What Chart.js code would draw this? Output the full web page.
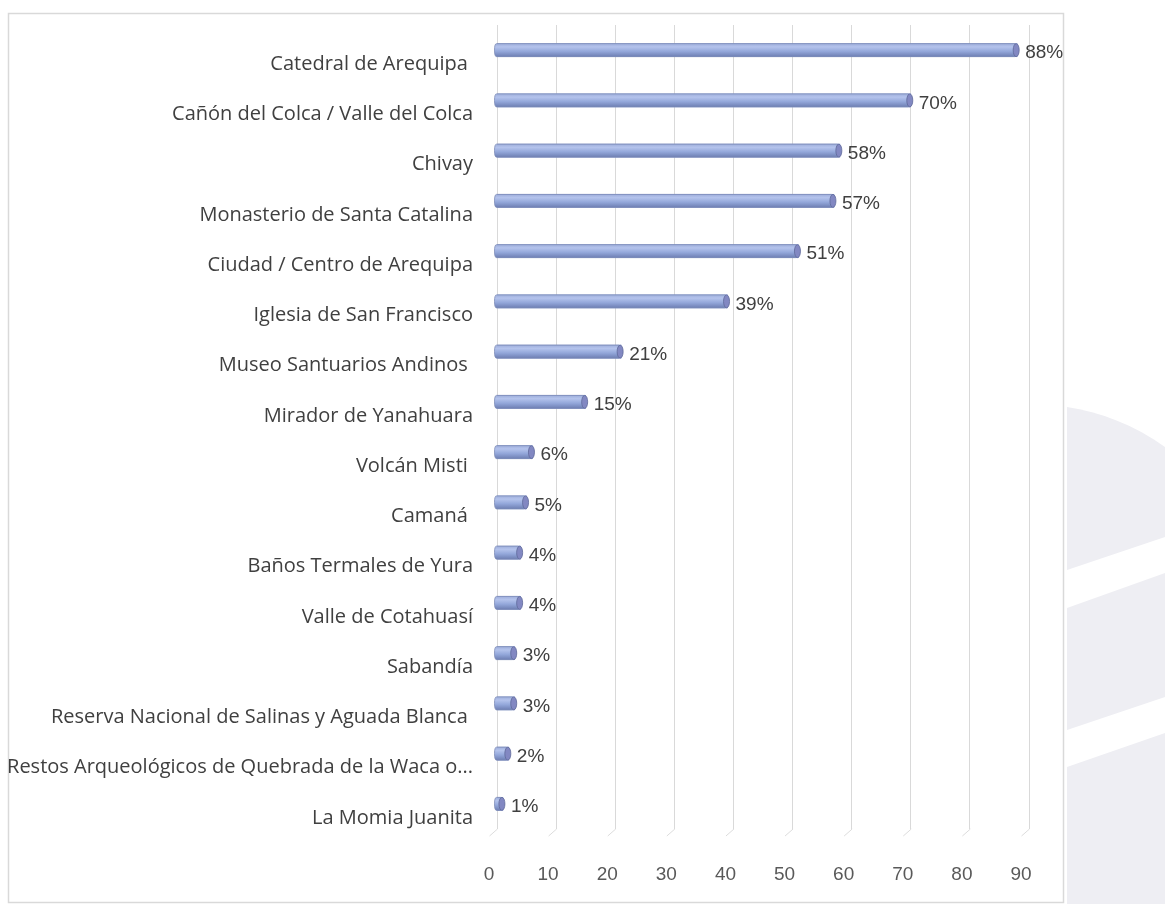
<!DOCTYPE html>
<html lang="es">

<head>
    <meta charset="UTF-8">
    <title>Lugares visitados en Arequipa</title>
    <script src="https://cdn.jsdelivr.net/npm/chart.js"></script>
    <style>
        body { margin: 0; background: #fff; }
        #wrap { width: 1165px; height: 904px; position: relative; }
    </style>
</head>

<body>
    <div id="wrap">
        <canvas id="barChart"></canvas>
    </div>
    <script>
        // places and share of visitors (%)
        const places = [
            'Catedral de Arequipa ',
            'Cañón del Colca / Valle del Colca',
            'Chivay',
            'Monasterio de Santa Catalina',
            'Ciudad / Centro de Arequipa',
            'Iglesia de San Francisco',
            'Museo Santuarios Andinos ',
            'Mirador de Yanahuara',
            'Volcán Misti ',
            'Camaná ',
            'Baños Termales de Yura',
            'Valle de Cotahuasí',
            'Sabandía',
            'Reserva Nacional de Salinas y Aguada Blanca ',
            'Restos Arqueológicos de Quebrada de la Waca o...',
            'La Momia Juanita'
        ];
        const shares = [88, 70, 58, 57, 51, 39, 21, 15, 6, 5, 4, 4, 3, 3, 2, 1];
        const axisMin = 0;
        const axisMax = 90;
        const axisStep = 10;

        // page frame + grey watermark on the right
        const framePlugin = {
            id: 'frame',
            beforeDraw(chart) {
                const c = chart.ctx;
                c.save();
                c.fillStyle = '#eeeef3';
                c.beginPath();
                c.moveTo(1067, 407);
                c.bezierCurveTo(1100, 412, 1135, 425, 1165, 447);
                c.lineTo(1165, 904);
                c.lineTo(1067, 904);
                c.closePath();
                c.fill();
                c.fillStyle = '#ffffff';
                c.beginPath();
                c.moveTo(1067, 570); c.lineTo(1165, 537); c.lineTo(1165, 573); c.lineTo(1067, 608);
                c.closePath();
                c.fill();
                c.beginPath();
                c.moveTo(1067, 730); c.lineTo(1165, 697); c.lineTo(1165, 733); c.lineTo(1067, 767);
                c.closePath();
                c.fill();
                c.strokeStyle = '#d9d9d9';
                c.lineWidth = 1.5;
                c.strokeRect(8.5, 13.5, 1055, 889);
                c.restore();
            },
            afterDraw(chart) {
                // little floor hooks under each grid line
                const c = chart.ctx;
                const xs = chart.scales.x;
                const b = chart.chartArea.bottom;
                c.save();
                c.strokeStyle = '#dcdcdc';
                c.lineWidth = 1;
                xs.ticks.forEach((t, i) => {
                    const x = xs.getPixelForTick(i) + 0.5;
                    c.beginPath();
                    c.moveTo(x, b);
                    c.lineTo(x - 8, b + 7);
                    c.stroke();
                });
                c.restore();
            }
        };

        // cylinder shading and value labels on the bars
        const barLook = {
            id: 'barLook',
            afterDatasetsDraw(chart) {
                const c = chart.ctx;
                const meta = chart.getDatasetMeta(0);
                c.save();
                meta.data.forEach((bar, i) => {
                    const h = bar.height;
                    const top = bar.y - h / 2;
                    const x0 = bar.base - 3;
                    const x1 = bar.x;
                    const g = c.createLinearGradient(0, top, 0, top + h);
                    g.addColorStop(0, '#9eaedb');
                    g.addColorStop(0.25, '#b4c3ec');
                    g.addColorStop(0.6, '#93a7da');
                    g.addColorStop(1, '#6e7fb3');
                    c.fillStyle = g;
                    c.strokeStyle = '#7c8bb8';
                    c.lineWidth = 0.8;
                    c.beginPath();
                    c.moveTo(x0 + 2, top);
                    c.lineTo(x1 - 2, top);
                    c.lineTo(x1 - 2, top + h);
                    c.lineTo(x0 + 2, top + h);
                    c.quadraticCurveTo(x0, top + h, x0, top + h / 2);
                    c.quadraticCurveTo(x0, top, x0 + 2, top);
                    c.fill();
                    c.stroke();
                    // end cap
                    c.fillStyle = '#8288c2';
                    c.strokeStyle = '#5e6899';
                    c.beginPath();
                    c.ellipse(x1 - 1, bar.y, 3, h / 2, 0, 0, Math.PI * 2);
                    c.fill();
                    c.stroke();
                    // value label
                    c.fillStyle = '#404040';
                    c.font = '19px "Liberation Sans Narrow", "Liberation Sans", sans-serif';
                    c.textAlign = 'left';
                    c.textBaseline = 'middle';
                    c.fillText(shares[i] + '%', x1 + 8, bar.y + 3);
                });
                c.restore();
            }
        };

        const ctx = document.getElementById('barChart').getContext('2d');
        new Chart(ctx, {
            type: 'bar',
            data: {
                labels: places,
                datasets: [{
                    data: shares,
                    backgroundColor: '#8fa2d6',
                    borderWidth: 0,
                    barThickness: 13
                }]
            },
            options: {
                indexAxis: 'y',
                responsive: true,
                maintainAspectRatio: false,
                animation: false,
                layout: { padding: { top: 25, right: 136, bottom: 15, left: 0 } },
                plugins: {
                    legend: { display: false },
                    tooltip: { enabled: false }
                },
                scales: {
                    x: {
                        min: axisMin,
                        max: axisMax,
                        ticks: {
                            stepSize: axisStep,
                            padding: 34,
                            labelOffset: -8,
                            color: '#595959',
                            font: { family: '"Liberation Sans Narrow", "Liberation Sans", sans-serif', size: 19 }
                        },
                        grid: { color: '#d9d9d9', drawTicks: false },
                        border: { display: false },
                        afterFit(scale) { scale.height = 60; }
                    },
                    y: {
                        ticks: {
                            padding: 24,
                            labelOffset: 14,
                            color: '#404040',
                            autoSkip: false,
                            font: { family: '"Open Sans", sans-serif', size: 20 }
                        },
                        grid: { display: false, drawTicks: false },
                        border: { display: false },
                        afterFit(scale) {
                            scale.width = 497;
                            scale.paddingTop = 0;
                            scale.paddingBottom = 0;
                        }
                    }
                }
            },
            plugins: [framePlugin, barLook]
        });
    </script>
</body>

</html>
